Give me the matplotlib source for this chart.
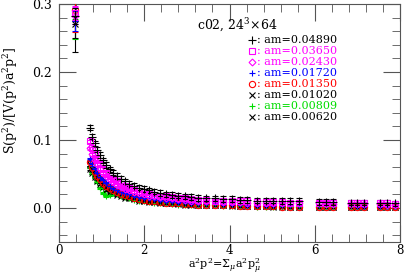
import matplotlib
matplotlib.use("Agg")
import matplotlib.pyplot as plt
from matplotlib.ticker import MultipleLocator

plt.rcParams['font.family'] = 'DejaVu Serif'
plt.rcParams['mathtext.fontset'] = 'dejavuserif'

# lattice momenta a^2 p^2 (shared by all masses)
xs = [0.37, 0.72, 0.78, 0.84, 0.90, 0.97, 1.04, 1.11, 1.19, 1.27,
      1.36, 1.45, 1.55, 1.65, 1.76, 1.87, 1.99, 2.11, 2.24, 2.37,
      2.51, 2.65, 2.80, 2.95, 3.10, 3.25, 3.45, 3.65, 3.85, 4.05,
      4.25, 4.42, 4.65, 4.85, 5.03, 5.22, 5.42, 5.62, 6.10, 6.26,
      6.42, 6.85, 7.00, 7.15, 7.52, 7.70, 7.88]

masses = ['0.04890', '0.03650', '0.02430', '0.01720',
          '0.01350', '0.01020', '0.00809', '0.00620']

y_04890 = [0.282, 0.118, 0.105, 0.095, 0.086, 0.078, 0.070, 0.063, 0.057, 0.052,
           0.047, 0.043, 0.039, 0.036, 0.033, 0.030, 0.028, 0.026, 0.024, 0.022,
           0.020, 0.019, 0.018, 0.017, 0.016, 0.015, 0.014, 0.014, 0.013, 0.013,
           0.012, 0.012, 0.011, 0.011, 0.011, 0.010, 0.010, 0.010, 0.009, 0.009,
           0.009, 0.008, 0.008, 0.008, 0.008, 0.008, 0.007]
y_03650 = [0.287, 0.098, 0.088, 0.080, 0.072, 0.065, 0.058, 0.052, 0.047, 0.043,
           0.039, 0.035, 0.032, 0.029, 0.027, 0.025, 0.023, 0.021, 0.019, 0.018,
           0.017, 0.016, 0.015, 0.014, 0.013, 0.012, 0.012, 0.011, 0.011, 0.010,
           0.010, 0.010, 0.009, 0.009, 0.009, 0.009, 0.008, 0.008, 0.008, 0.008,
           0.007, 0.007, 0.007, 0.007, 0.007, 0.007, 0.006]
y_02430 = [0.283, 0.088, 0.079, 0.071, 0.064, 0.058, 0.052, 0.047, 0.042, 0.038,
           0.034, 0.031, 0.028, 0.026, 0.024, 0.022, 0.020, 0.018, 0.017, 0.016,
           0.015, 0.014, 0.013, 0.012, 0.011, 0.011, 0.010, 0.010, 0.009, 0.009,
           0.009, 0.008, 0.008, 0.008, 0.008, 0.007, 0.007, 0.007, 0.007, 0.006,
           0.006, 0.006, 0.006, 0.006, 0.006, 0.005, 0.005]
y_01720 = [0.275, 0.072, 0.064, 0.057, 0.051, 0.046, 0.041, 0.037, 0.033, 0.030,
           0.027, 0.024, 0.022, 0.020, 0.018, 0.016, 0.015, 0.014, 0.013, 0.012,
           0.011, 0.010, 0.009, 0.009, 0.008, 0.008, 0.007, 0.007, 0.006, 0.006,
           0.006, 0.005, 0.005, 0.005, 0.005, 0.005, 0.004, 0.004, 0.004, 0.004,
           0.004, 0.004, 0.003, 0.003, 0.003, 0.003, 0.003]
y_01350 = [0.291, 0.068, 0.060, 0.053, 0.047, 0.042, 0.037, 0.033, 0.029, 0.026,
           0.023, 0.021, 0.019, 0.017, 0.015, 0.013, 0.012, 0.011, 0.010, 0.009,
           0.008, 0.007, 0.007, 0.006, 0.006, 0.005, 0.005, 0.004, 0.004, 0.004,
           0.003, 0.003, 0.003, 0.003, 0.003, 0.002, 0.002, 0.002, 0.002, 0.002,
           0.002, 0.002, 0.002, 0.002, 0.001, 0.001, 0.001]
y_01020 = [0.280, 0.064, 0.057, 0.050, 0.045, 0.040, 0.035, 0.031, 0.028, 0.025,
           0.022, 0.020, 0.018, 0.016, 0.014, 0.013, 0.012, 0.011, 0.010, 0.009,
           0.008, 0.007, 0.007, 0.006, 0.006, 0.005, 0.005, 0.004, 0.004, 0.004,
           0.003, 0.003, 0.003, 0.003, 0.003, 0.003, 0.002, 0.002, 0.002, 0.002,
           0.002, 0.002, 0.002, 0.002, 0.002, 0.002, 0.002]
y_00809 = [0.278, 0.060, 0.052, 0.045, 0.038, 0.030, 0.022, 0.017, 0.019, 0.022,
           0.020, 0.018, 0.016, 0.014, 0.012, 0.011, 0.010, 0.009, 0.008, 0.007,
           0.007, 0.006, 0.005, 0.005, 0.005, 0.004, 0.004, 0.004, 0.003, 0.003,
           0.003, 0.003, 0.002, 0.002, 0.002, 0.002, 0.002, 0.002, 0.002, 0.002,
           0.002, 0.001, 0.001, 0.001, 0.001, 0.001, 0.001]
y_00620 = [0.270, 0.058, 0.051, 0.045, 0.040, 0.035, 0.031, 0.027, 0.024, 0.022,
           0.019, 0.017, 0.015, 0.014, 0.013, 0.011, 0.010, 0.009, 0.009, 0.008,
           0.007, 0.007, 0.006, 0.005, 0.005, 0.005, 0.004, 0.004, 0.004, 0.003,
           0.003, 0.003, 0.003, 0.003, 0.002, 0.002, 0.002, 0.002, 0.002, 0.002,
           0.002, 0.002, 0.001, 0.001, 0.001, 0.001, 0.001]

ys = [y_04890, y_03650, y_02430, y_01720, y_01350, y_01020, y_00809, y_00620]

# error at lowest momentum, and typical error elsewhere
err_first = [0.012, 0.010, 0.012, 0.015, 0.032, 0.030, 0.030, 0.040]
err_rest = [0.004, 0.002, 0.002, 0.0015, 0.0015, 0.0015, 0.0015, 0.0015]

colors = ['black', '#ff00ff', '#ff00ff', '#0000ff', '#ff0000', 'black', '#00dd00', 'black']
markers = ['+', 's', 'D', '+', 'o', 'x', '+', 'x']
msizes = [6, 4.5, 3.5, 5, 4.5, 4.5, 5, 4.5]

fig = plt.figure(figsize=(4.07, 2.77), dpi=100)
ax = fig.add_axes([59/407, 1-242/277, 341/407, 238/277])

for i in range(len(masses)):
    yerr = [err_first[i]] + [err_rest[i]] * (len(xs) - 1)
    ax.errorbar(xs, ys[i], yerr=yerr, fmt=markers[i], color=colors[i],
                mfc='none', ms=msizes[i], mew=0.8, elinewidth=0.8,
                capsize=2, capthick=0.8, zorder=3 + (8 - i) * 0.1)

ax.set_xlim(0, 8)
ax.set_ylim(-0.05, 0.3)
ax.set_xticks([0, 2, 4, 6, 8])
ax.set_xticklabels(['0', '2', '4', '6', '8'])
ax.xaxis.set_minor_locator(MultipleLocator(0.4))
ax.set_yticks([0.0, 0.1, 0.2, 0.3])
ax.set_yticklabels(['0.0', '0.1', '0.2', '0.3'])
ax.yaxis.set_minor_locator(MultipleLocator(0.02))
ax.tick_params(which='both', direction='in', top=True, right=True,
               color='#555555', labelsize=9)
ax.tick_params(which='major', length=12)
ax.tick_params(which='minor', length=6)
ax.tick_params(axis='x', which='major', pad=1.5, labelsize=8.5)
ax.tick_params(axis='y', which='major', pad=5)
for s in ax.spines.values():
    s.set_color('#555555')

ax.text(278/407, 1-25/277, r'c02, 24$^3$$\times$64', transform=fig.transFigure,
        ha='right', va='center', fontsize=9)

# legend drawn row by row, marker then coloured label
for i in range(len(masses)):
    yrow = 1 - (40 + 11 * i) / 277
    ax.plot([252/407], [yrow], ls='none', marker=markers[i], color=colors[i],
            mfc='none', ms=msizes[i], mew=0.8, transform=fig.transFigure,
            clip_on=False)
    ax.text(257/407, yrow, ': am=' + masses[i], color=colors[i],
            transform=fig.transFigure, ha='left', va='center', fontsize=8)

fig.text(11/407, 1-100/277, r'S(p$^2$)/[V(p$^2$)a$^2$p$^2$]', rotation=90,
         ha='center', va='center', fontsize=9)
fig.text(224/407, 1-266/277, r'a$^2$p$^2$=$\Sigma_\mu$a$^2$p$^2_\mu$',
         ha='center', va='center', fontsize=8)

fig.savefig('out.png', dpi=100)
